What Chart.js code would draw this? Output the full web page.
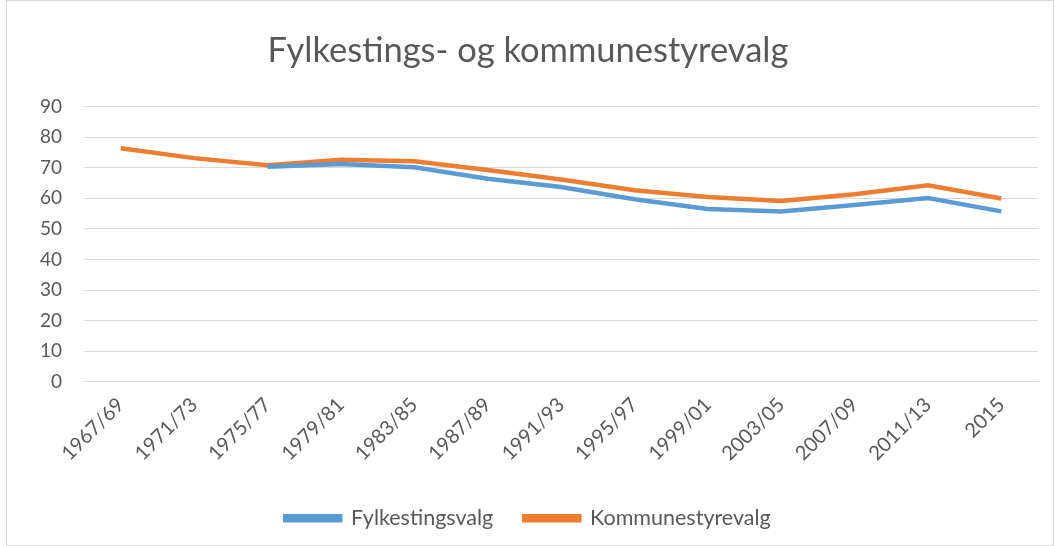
<!DOCTYPE html>
<html>
<head>
<meta charset="utf-8">
<script src="https://cdn.jsdelivr.net/npm/chart.js@4/dist/chart.umd.min.js"></script>
<style>
  html, body { margin: 0; padding: 0; background: #fff; }
  #wrap { width: 1055px; height: 546px; position: relative; }
</style>
</head>
<body>
<div id="wrap"><canvas id="graf"></canvas></div>
<script>
// valgperioder
const perioder = ['1967/69', '1971/73', '1975/77', '1979/81', '1983/85', '1987/89', '1991/93',
  '1995/97', '1999/01', '2003/05', '2007/09', '2011/13', '2015']
// valgdeltakelse i prosent
const fylkesting = [null, null, 70.3, 71.2, 70.1, 66.4, 63.7, 59.7, 56.5, 55.7, 57.8, 60.1, 55.7]
const kommunestyre = [76.3, 73.1, 70.8, 72.6, 72.1, 69.2, 66.1, 62.6, 60.4, 59.1, 61.3, 64.2, 59.9]
const y_ticks = [0, 10, 20, 30, 40, 50, 60, 70, 80, 90]

const blaa = '#5B9BD5'
const oransje = '#ED7D31'
const gra_tekst = '#595959'

// ramme rundt hele diagrammet
const ramme = {
  id: 'ramme',
  afterDraw(chart) {
    const c = chart.ctx
    c.save()
    c.strokeStyle = '#d9d9d9'
    c.lineWidth = 1
    c.strokeRect(6.5, 0.5, chart.width - 8, chart.height - 1)
    c.restore()
  }
}

let ctx = document.getElementById('graf')
let graf = new Chart(ctx, {
  type: 'line',
  data: {
    labels: perioder,
    datasets: [{
      label: 'Fylkestingsvalg',
      data: fylkesting,
      borderColor: blaa,
      backgroundColor: blaa,
      borderWidth: 4.5,
      pointRadius: 0,
      tension: 0
    }, {
      label: 'Kommunestyrevalg',
      data: kommunestyre,
      borderColor: oransje,
      backgroundColor: oransje,
      borderWidth: 4.5,
      pointRadius: 0,
      tension: 0
    }]
  },
  options: {
    responsive: true,
    maintainAspectRatio: false,
    animation: false,
    layout: { padding: { left: 18, right: 17, top: 30, bottom: 7 } },
    plugins: {
      title: {
        display: true,
        text: 'Fylkestings- og kommunestyrevalg',
        color: gra_tekst,
        font: { family: 'Lato', size: 34.5, weight: 'normal' },
        padding: { top: 0, bottom: 35 }
      },
      legend: {
        position: 'bottom',
        labels: {
          color: gra_tekst,
          font: { family: 'Lato', size: 21.5 },
          boxWidth: 55,
          boxHeight: 4,
          padding: 31
        }
      },
      tooltip: { enabled: false }
    },
    scales: {
      x: {
        offset: true,
        grid: { display: false, drawTicks: false },
        border: { color: '#d9d9d9' },
        ticks: {
          color: gra_tekst,
          font: { family: 'Lato', size: 20 },
          minRotation: 45,
          maxRotation: 45,
          padding: 11
        }
      },
      y: {
        min: 0,
        max: 90,
        afterBuildTicks: (axis) => { axis.ticks = y_ticks.map(v => ({ value: v })) },
        grid: { color: '#d9d9d9', drawTicks: false },
        border: { display: false },
        ticks: {
          color: gra_tekst,
          font: { family: 'Lato', size: 19 },
          padding: 22
        }
      }
    }
  },
  plugins: [ramme]
})
</script>
</body>
</html>
